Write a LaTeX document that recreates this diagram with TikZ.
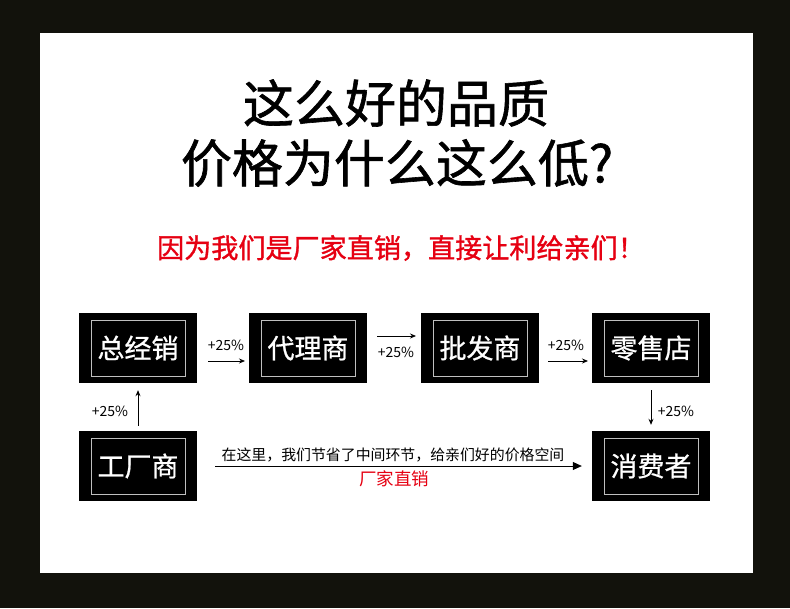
\documentclass[tikz,border=0pt]{standalone}
\usepackage{fontspec}
\setmainfont{Noto Sans CJK SC}
\newfontfamily\cjk{Noto Sans CJK SC}
\newfontfamily\cjkm[FakeBold=1.2]{Noto Sans CJK SC}
\newfontfamily\cjkb[FakeBold=0.8]{Noto Sans CJK SC}
\usetikzlibrary{arrows.meta}
\definecolor{framedark}{HTML}{12120C}
\definecolor{redtxt}{HTML}{E60012}
\begin{document}
\begin{tikzpicture}[x=1pt,y=-1pt,
  outerbox/.style={fill=black,draw=none,minimum width=118pt,minimum height=70pt,inner sep=0pt},
  innerbox/.style={draw=white!75!black,line width=0.8pt,minimum width=94pt,minimum height=56pt,inner sep=0pt,
     text=white,font=\cjkb\fontsize{27}{30}\selectfont},
  arr/.style={-{Stealth[length=6pt,width=5pt]},line width=0.8pt},
  pct/.style={font=\cjk\fontsize{14}{16}\selectfont,inner sep=1pt}]
\useasboundingbox (0,0) rectangle (790,608);
\fill[framedark] (0,0) rectangle (790,608);
\fill[white] (40,33) rectangle (753,573);
% titles
\node[font=\cjkm\fontsize{51}{54}\selectfont] (t1) at (396,103) {这么好的品质};
\node[font=\cjkm\fontsize{51}{54}\selectfont] (t2) at (397,163) {价格为什么这么低?};
\node[font=\cjkm\fontsize{27.1}{30}\selectfont,text=redtxt] (t3) at (401,248) {因为我们是厂家直销，直接让利给亲们！};
% boxes
\node[outerbox] (zjx) at (138,348) {};
\node[innerbox] at (zjx) {总经销};
\node[outerbox] (dls) at (308,348) {};
\node[innerbox] at (dls) {代理商};
\node[outerbox] (pfs) at (480,348) {};
\node[innerbox] at (pfs) {批发商};
\node[outerbox] (lsd) at (651,348) {};
\node[innerbox] at (lsd) {零售店};
\node[outerbox] (gcs) at (138,466) {};
\node[innerbox] at (gcs) {工厂商};
\node[outerbox] (xfz) at (651,466) {};
\node[innerbox] at (xfz) {消费者};
% arrows top row
\coordinate (a1s) at (208,361); \coordinate (a1e) at (245,361);
\draw[arr] (a1s) -- (a1e);
\node[pct] (p1) at (226,345) {+25\%};
\coordinate (a2s) at (377,336); \coordinate (a2e) at (416,336);
\draw[arr] (a2s) -- (a2e);
\node[pct] (p2) at (396,352) {+25\%};
\coordinate (a3s) at (548,361); \coordinate (a3e) at (588,361);
\draw[arr] (a3s) -- (a3e);
\node[pct] (p3) at (566,345) {+25\%};
% vertical arrows
\draw[arr] ([yshift=5pt]gcs.north) -- ([yshift=-7pt]zjx.south);
\node[pct] (p4) at (110,411) {+25\%};
\draw[arr] ([yshift=-7pt]lsd.south) -- ([yshift=6pt]xfz.north);
\node[pct] (p5) at (676,411) {+25\%};
% bottom arrow
\draw[-{Triangle[length=9pt,width=8pt]},line width=0.8pt] ([xshift=18pt]gcs.east) -- ([xshift=-10pt]xfz.west);
\node[font=\cjk\fontsize{14.9}{16}\selectfont] (bt) at (393,455) {在这里，我们节省了中间环节，给亲们好的价格空间};
\node[font=\cjk\fontsize{17.5}{19}\selectfont,text=redtxt] (bt2) at (394,479) {厂家直销};
\end{tikzpicture}
\end{document}
